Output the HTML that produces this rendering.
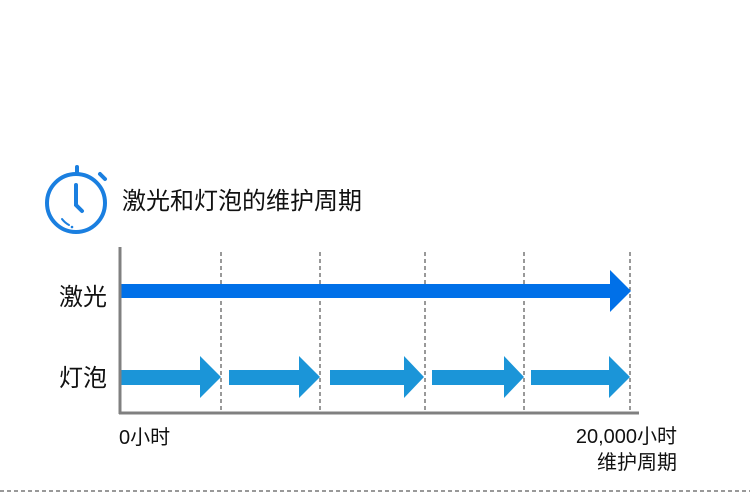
<!DOCTYPE html>
<html><head><meta charset="utf-8"><style>
body{margin:0;width:750px;height:498px;background:#fff;position:relative;overflow:hidden;font-family:"Liberation Sans","Noto Sans CJK SC",sans-serif;color:#111}
.t{position:absolute;white-space:nowrap;line-height:1}
</style></head><body>
<svg width="750" height="498" style="position:absolute;left:0;top:0">
<g fill="none" stroke="#1a7fe0" stroke-width="4" stroke-linecap="round">
<circle cx="76" cy="203" r="29"/>
<path d="M 62 219 A 21 21 0 0 0 69 225" stroke-width="2"/>
<line x1="77" y1="167" x2="77" y2="172"/>
<line x1="100" y1="174" x2="105" y2="179"/>
<polyline points="76,185 76,205 82,211"/>
</g>
<circle cx="72" cy="227" r="1.3" fill="#1a7fe0"/>
<g stroke="#333" stroke-width="1" stroke-dasharray="4,3">
<line x1="221" y1="252" x2="221" y2="412"/>
<line x1="320" y1="252" x2="320" y2="412"/>
<line x1="425" y1="252" x2="425" y2="412"/>
<line x1="524" y1="252" x2="524" y2="412"/>
<line x1="630" y1="252" x2="630" y2="412"/>
<line x1="0" y1="491" x2="750" y2="491"/>
</g>
<polygon points="121,284 610,284 610,270 631,291 610,312 610,298 121,298" fill="#0070e8"/>
<g fill="#1b95d8">
<polygon points="120,370 200,370 200,356 221,377 200,398 200,385 120,385"/>
<polygon points="229,370 299,370 299,356 320,377 299,398 299,385 229,385"/>
<polygon points="330,370 404,370 404,356 424,377 404,398 404,385 330,385"/>
<polygon points="432,370 504,370 504,356 524,377 504,398 504,385 432,385"/>
<polygon points="531,370 609,370 609,356 630,377 609,398 609,385 531,385"/>
</g>
<line x1="120" y1="247" x2="120" y2="414" stroke="#808080" stroke-width="3"/>
<line x1="119" y1="413" x2="639" y2="413" stroke="#808080" stroke-width="3"/>
</svg>
<div class="t" style="left:122px;top:190px;font-size:24px">激光和灯泡的维护周期</div>
<div class="t" style="left:59px;top:286px;font-size:24px">激光</div>
<div class="t" style="left:59px;top:367px;font-size:24px">灯泡</div>
<div class="t" style="left:119px;top:428px;font-size:20px">0小时</div>
<div class="t" style="right:73px;top:427px;font-size:20px;text-align:right">20,000小时</div>
<div class="t" style="right:73px;top:453px;font-size:20px;text-align:right">维护周期</div>
</body></html>
